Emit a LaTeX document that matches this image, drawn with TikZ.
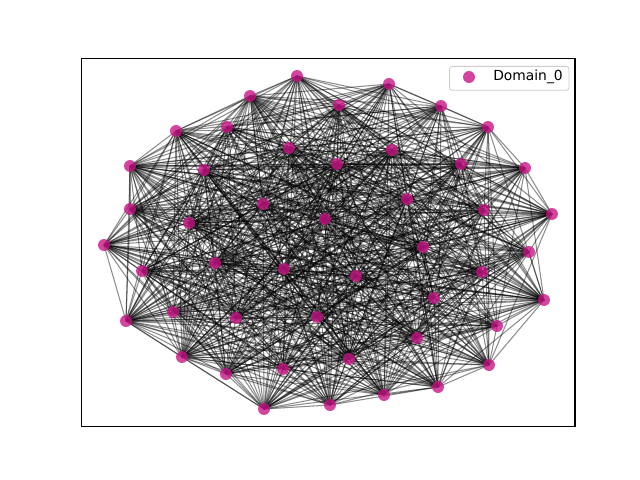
\documentclass[tikz,border=0pt]{standalone}
\usepackage{fontspec}
\setmainfont{DejaVu Sans}
\usetikzlibrary{backgrounds}
\definecolor{nodecol}{RGB}{199,21,133}
\definecolor{legedge}{RGB}{204,204,204}
\tikzset{
  dot/.style={circle,fill=nodecol,fill opacity=0.8,inner sep=0pt,minimum size=12*0.72pt},
  edge/.style={draw=black,draw opacity=0.45,line width=0.75pt},
  frame/.style={draw=black,line width=0.8pt},
  legbox/.style={draw=legedge,fill=white,fill opacity=0.8,rounded corners=2pt,line width=0.6pt},
}
\begin{document}
\begin{tikzpicture}[x=0.01in,y=-0.01in]
\useasboundingbox (0,0) rectangle (640,480);
\foreach \k/\px/\py in {
1/297/76, 2/389/84, 3/250/96, 4/339/105, 5/441/106, 6/176/131, 7/227/127, 8/488/127,
9/289/148, 10/392/150, 11/337/164, 12/461/164, 13/130/166, 14/204/170, 15/525/168,
16/407/199, 17/263/204, 18/130/209, 19/484/210, 20/552/214, 21/325/219, 22/189/223,
23/104/245, 24/423/247, 25/529/252, 26/215/263, 27/284/269, 28/356/276, 29/142/271,
30/482/272, 31/544/300, 32/434/298, 33/173/312, 34/126/321, 35/236/318, 36/317/317,
37/497/326, 38/417/338, 39/182/357, 40/349/359, 41/283/369, 42/489/365, 43/226/374,
44/384/395, 45/438/387, 46/330/405, 47/264/409}
{
  \node[dot] (n\k) at (\px,\py) {};
}
\begin{scope}[on background layer]
\pgfmathsetseed{7}
\foreach \i in {1,...,47} {
  \foreach \j in {1,...,47} {
    \ifnum\j>\i
      \pgfmathsetmacro\r{rnd}
      \ifdim\r pt<0.75pt
        \draw[edge] (n\i.center) -- (n\j.center);
      \fi
    \fi
  }
}
\end{scope}
\node[frame,inner sep=0pt,minimum width=495*0.72pt,minimum height=369*0.72pt,anchor=north west] (axes) at (81,58) {};
\node[legbox,inner sep=0pt,minimum width=120*0.72pt,minimum height=24*0.72pt,anchor=north west] (leg) at (449,66) {};
\node[dot] (legdot) at (469,77) {};
\node[anchor=west,inner sep=0pt,font=\fontsize{10}{12}\selectfont] (legtxt) at (493,77) {Domain\_0};
\end{tikzpicture}
\end{document}
